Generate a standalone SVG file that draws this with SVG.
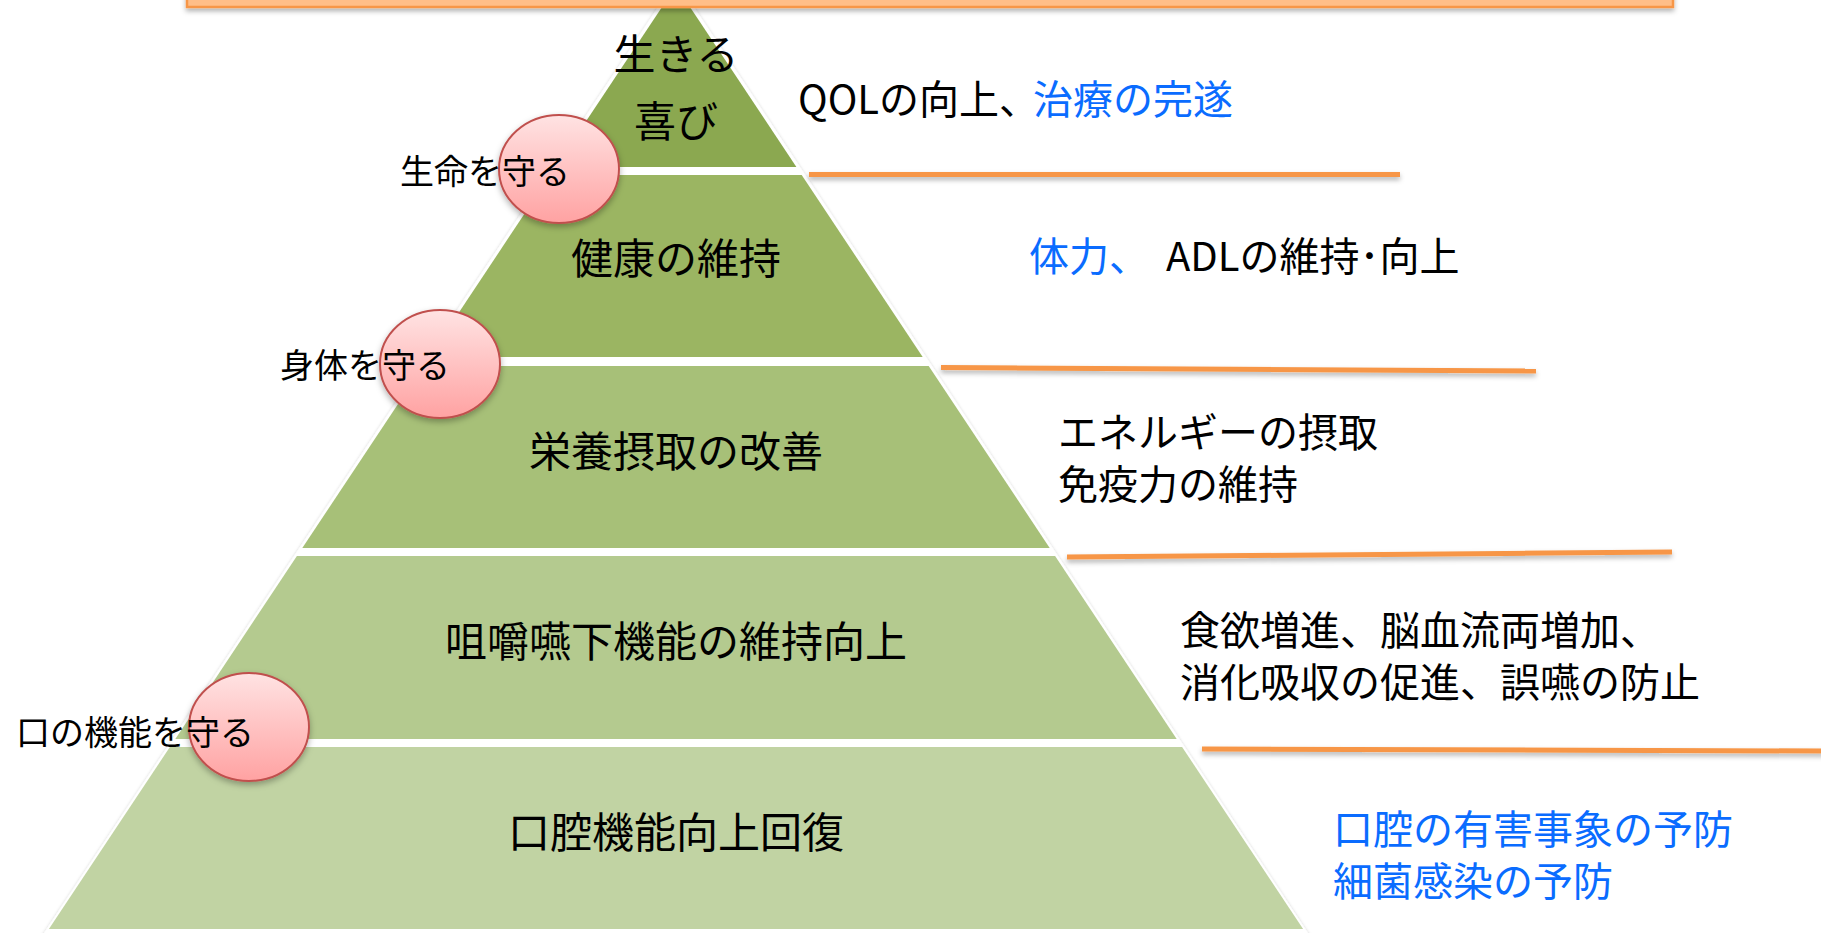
<svg xmlns="http://www.w3.org/2000/svg" width="1821" height="933" viewBox="0 0 1821 933">
  <defs>
    <linearGradient id="pink" x1="0" y1="0" x2="0" y2="1">
      <stop offset="0" stop-color="#FFE3E3"/>
      <stop offset="1" stop-color="#FFA2A2"/>
    </linearGradient>
    <filter id="shadow" filterUnits="userSpaceOnUse" x="0" y="-40" width="1821" height="1000">
      <feDropShadow dx="0" dy="3" stdDeviation="2.5" flood-color="#000" flood-opacity="0.3"/>
    </filter>
    <filter id="cshadow" x="-20%" y="-20%" width="140%" height="140%">
      <feDropShadow dx="0" dy="3" stdDeviation="3" flood-color="#000" flood-opacity="0.3"/>
    </filter>
    <filter id="soft" x="-5%" y="-5%" width="110%" height="110%">
      <feDropShadow dx="0" dy="0" stdDeviation="1.5" flood-color="#000" flood-opacity="0.18"/>
    </filter>
  </defs>
  <style>
    text { font-family: "Noto Sans CJK JP", "Noto Sans", sans-serif; fill: #000; }
    .tier { font-size: 42px; text-anchor: middle; }
    .guard { font-size: 34px; }
    .note { font-size: 40px; }
    .blue { fill: #0A6CFF; }
    .sep { stroke: #F79646; stroke-width: 5; fill: none; filter: url(#shadow); }
    .circ { fill: url(#pink); stroke: #C0504D; stroke-width: 2; filter: url(#cshadow); }
  </style>
  <rect width="1821" height="933" fill="#FFFFFF"/>

  <g id="pyramid-rim">
    <polygon points="676,-20 1310,936 42,936" fill="#FFFFFF" filter="url(#soft)"/>
  </g>

  <g id="tier1">
    <polygon points="676,-14 796.4,167 555.6,167" fill="#8BA850"/>
    <text class="tier" x="676" y="70">生きる</text>
    <text class="tier" x="676" y="137">喜び</text>
  </g>
  <g id="tier2">
    <polygon points="550.3,175 801.7,175 922.7,357 429.3,357" fill="#9BB562"/>
    <text class="tier" x="676" y="274">健康の維持</text>
  </g>
  <g id="tier3">
    <polygon points="423.3,366 928.7,366 1049.7,548 302.3,548" fill="#A7C078"/>
    <text class="tier" x="676" y="467">栄養摂取の改善</text>
  </g>
  <g id="tier4">
    <polygon points="296.9,556 1055.1,556 1176.7,739 175.3,739" fill="#B4CA8F"/>
    <text class="tier" x="676" y="657">咀嚼嚥下機能の維持向上</text>
  </g>
  <g id="tier5">
    <polygon points="169.9,747 1182.1,747 1303.1,929 48.9,929" fill="#C1D3A3"/>
    <text class="tier" x="676" y="848">口腔機能向上回復</text>
  </g>

  <g id="top-bar">
    <rect x="187" y="-12" width="1486" height="19" fill="#FFBE88" stroke="#F79646" stroke-width="2.5" filter="url(#shadow)"/>
  </g>

  <g id="connectors">
    <line class="sep" x1="809" y1="174.5" x2="1400" y2="174.5"/>
    <line class="sep" x1="941" y1="367.5" x2="1536" y2="371"/>
    <line class="sep" x1="1067" y1="557" x2="1672" y2="552"/>
    <line class="sep" x1="1202" y1="749" x2="1825" y2="751"/>
  </g>

  <g id="guard-life">
    <ellipse class="circ" cx="559" cy="169" rx="60" ry="54"/>
    <text class="guard" x="400" y="184">生命を守る</text>
  </g>
  <g id="guard-body">
    <ellipse class="circ" cx="440" cy="364" rx="60" ry="54"/>
    <text class="guard" x="280" y="378">身体を守る</text>
  </g>
  <g id="guard-mouth">
    <ellipse class="circ" cx="249" cy="727" rx="60" ry="54"/>
    <text class="guard" x="16" y="745">口の機能を守る</text>
  </g>

  <g id="note1">
    <text class="note" x="798" y="114">QOLの向上、<tspan class="blue" x="1033">治療の完遂</tspan></text>
  </g>
  <g id="note2">
    <text class="note" x="1029" y="271"><tspan class="blue">体力、</tspan><tspan x="1166">ADLの維持･向上</tspan></text>
  </g>
  <g id="note3">
    <text class="note" x="1058" y="447">エネルギーの摂取</text>
    <text class="note" x="1058" y="499">免疫力の維持</text>
  </g>
  <g id="note4">
    <text class="note" x="1180" y="645">食欲増進、脳血流両増加、</text>
    <text class="note" x="1180" y="697">消化吸収の促進、誤嚥の防止</text>
  </g>
  <g id="note5">
    <text class="note blue" x="1333" y="844">口腔の有害事象の予防</text>
    <text class="note blue" x="1333" y="896">細菌感染の予防</text>
  </g>
</svg>
